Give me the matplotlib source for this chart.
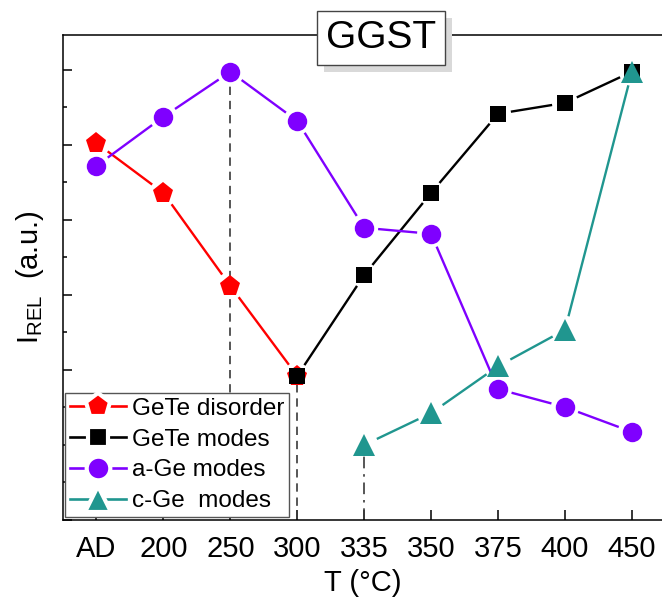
import numpy as np
import matplotlib
matplotlib.use("Agg")
import matplotlib.pyplot as plt
from matplotlib.lines import Line2D
from matplotlib.patches import Rectangle
from matplotlib.ticker import MultipleLocator

# Annealing temperatures (categorical axis)
temps = ["AD", "200", "250", "300", "335", "350", "375", "400", "450"]

# Relative intensities (a.u.), indexed by position in `temps`
gete_dis_idx = [0, 1, 2, 3]
gete_dis = [1.005, 0.872, 0.624, 0.384]

gete_modes_idx = [3, 4, 5, 6, 7, 8]
gete_modes = [0.384, 0.653, 0.872, 1.083, 1.112, 1.195]

age_idx = [0, 1, 2, 3, 4, 5, 6, 7, 8]
age_modes = [0.944, 1.075, 1.195, 1.064, 0.779, 0.763, 0.349, 0.301, 0.235]

cge_idx = [4, 5, 6, 7, 8]
cge_modes = [0.200, 0.285, 0.410, 0.507, 1.195]

plt.rcParams["font.family"] = ["Liberation Sans", "DejaVu Sans"]

W, H = 662, 599
fig = plt.figure(figsize=(W / 100, H / 100), dpi=100)
ax = fig.add_axes([63 / W, 79 / H, (W - 63) / W, 485 / H])
ax.set_xlim(-0.5, 8.45)
ax.set_ylim(0, 1.293)

RED = "#ff0000"
BLACK = "#000000"
PURPLE = "#7f00ff"
TEAL = "#20968f"


def gapped_line(ax, xs, ys, color, gap_px, lw=1.7):
    """Connect consecutive points, leaving a small gap around each marker."""
    pts = ax.transData.transform(np.column_stack([xs, ys]))
    inv = ax.transData.inverted()
    for p0, p1 in zip(pts[:-1], pts[1:]):
        d = p1 - p0
        L = np.hypot(*d)
        if L <= 2 * gap_px:
            continue
        u = d / L
        a = inv.transform(p0 + u * gap_px)
        b = inv.transform(p1 - u * gap_px)
        ax.plot([a[0], b[0]], [a[1], b[1]], color=color, lw=lw,
                solid_capstyle="butt", zorder=3)


series = [
    (gete_dis_idx, gete_dis, RED, "p", 15.5, 14, "GeTe disorder"),
    (gete_modes_idx, gete_modes, BLACK, "s", 11.5, 13, "GeTe modes"),
    (age_idx, age_modes, PURPLE, "o", 14, 14, "a-Ge modes"),
    (cge_idx, cge_modes, TEAL, "^", 15.5, 14, "c-Ge  modes"),
]

# Vertical guide lines at the transition temperatures
guide = dict(color="#3a3a3a", lw=1.2, zorder=2)
ax.plot([2, 2], [0, age_modes[2]], ls=(0, (5, 3.5)), **guide)
ax.plot([3, 3], [0, gete_modes[0]], ls=(0, (5, 3.5)), **guide)
ax.plot([4, 4], [0, cge_modes[0]], ls=(0, (7, 3.5, 1.5, 3.5)), **guide)

handles = []
for xs, ys, c, m, ms, gap, lab in series:
    gapped_line(ax, xs, ys, c, gap)
    ax.plot(xs, ys, ls="none", marker=m, ms=ms, color=c, mec=c, mew=0,
            zorder=4)
    handles.append(Line2D([], [], color=c, lw=1.9, marker=m, ms=ms + 3,
                          mfc=c, mec="white", mew=3))

ax.set_xticks(range(len(temps)))
ax.set_xticklabels(temps)
ax.yaxis.set_major_locator(MultipleLocator(0.2))
ax.yaxis.set_minor_locator(MultipleLocator(0.1))
ax.set_yticklabels([])
ax.tick_params(axis="x", direction="in", length=7, width=1.1,
               labelsize=21, pad=11, top=False)
ax.tick_params(axis="y", which="major", direction="in", length=6.5,
               width=1.1, right=False)
ax.tick_params(axis="y", which="minor", direction="in", length=3,
               width=1.1, right=False)
for s in ["left", "bottom", "top"]:
    ax.spines[s].set_linewidth(1.1)
ax.spines["right"].set_visible(False)

ax.set_xlabel("T (°C)", fontsize=21, labelpad=4)
ax.set_ylabel(r"I$_\mathregular{REL}$  (a.u.)", fontsize=21, labelpad=9)

leg = ax.legend(handles, [s[-1] for s in series], loc="lower left",
                bbox_to_anchor=(0.004, 0.006), borderaxespad=0,
                fontsize=17.5, handlelength=2.3, handletextpad=0.25,
                labelspacing=0.36, borderpad=0.2, fancybox=False,
                framealpha=1, edgecolor="#555555")
leg.get_frame().set_linewidth(1.0)

# Boxed title with drop shadow
tx, ty = 381 / W, 1 - 38 / H
title = fig.text(tx, ty, "GGST", fontsize=28, ha="center", va="center",
                 color="black", zorder=5,
                 bbox=dict(boxstyle="square,pad=0.22", fc="white",
                           ec="#444444", lw=1.0))
fig.canvas.draw()
bb = title.get_bbox_patch().get_window_extent()
fig.add_artist(Rectangle(((bb.x0 + 7) / W, (bb.y0 - 7) / H),
                         bb.width / W, bb.height / H,
                         transform=fig.transFigure, fc="#d9d9d9",
                         ec="none", zorder=4))

fig.savefig("out.png", dpi=100)
